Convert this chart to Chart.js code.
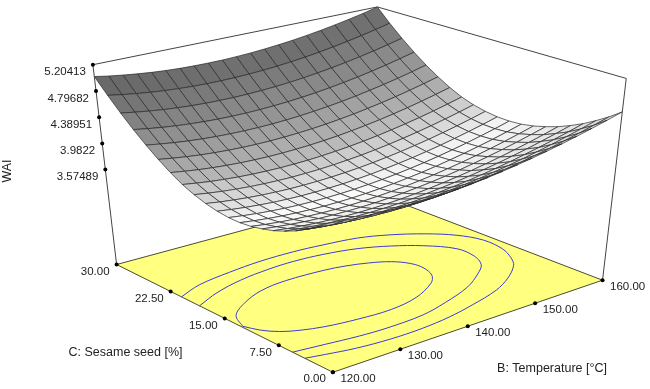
<!DOCTYPE html>
<html>
<head>
<title>WAI surface</title>
<script src="https://cdn.jsdelivr.net/npm/chart.js"></script>
<style>
  body{ margin:0; background:#fff; }
  canvas{ display:block; }
</style>
</head>
<body>
<canvas id="myChart" width="650" height="389"></canvas>
<script>
// axis values
const temperature = [120,122,124,126,128,130,132,134,136,138,140,142,144,146,148,150,152,154,156,158,160];
const sesame = [0,1.5,3,4.5,6,7.5,9,10.5,12,13.5,15,16.5,18,19.5,21,22.5,24,25.5,27,28.5,30];
const tempTicks = [120,130,140,150,160];
const tempLabels = ['120.00','130.00','140.00','150.00','160.00'];
const sesameTicks = [0,7.5,15,22.5,30];
const sesameLabels = ['0.00','7.50','15.00','22.50','30.00'];
const waiTicks = [5.20413,4.79682,4.38951,3.9822,3.57489];
const waiLabels = ['5.20413','4.79682','4.38951','3.9822','3.57489'];

// WAI, one row per sesame value, one column per temperature
const waiS00 = [4.190,4.169,4.154,4.143,4.136,4.135,4.138,4.147,4.160,4.177,4.200,4.227,4.260,4.297,4.338,4.385,4.436,4.493,4.554,4.619,4.690];
const waiS01 = [4.072,4.050,4.034,4.022,4.015,4.013,4.015,4.023,4.035,4.052,4.074,4.100,4.132,4.168,4.209,4.255,4.305,4.361,4.421,4.486,4.556];
const waiS02 = [3.972,3.950,3.932,3.920,3.912,3.909,3.911,3.917,3.929,3.945,3.966,3.992,4.022,4.058,4.098,4.143,4.193,4.247,4.307,4.371,4.440];
const waiS03 = [3.882,3.859,3.840,3.827,3.818,3.815,3.816,3.821,3.832,3.847,3.868,3.893,3.922,3.957,3.996,4.041,4.090,4.143,4.202,4.265,4.334];
const waiS04 = [3.810,3.786,3.767,3.753,3.744,3.739,3.739,3.744,3.754,3.769,3.788,3.812,3.841,3.875,3.914,3.957,4.005,4.058,4.116,4.179,4.246];
const waiS05 = [3.748,3.723,3.703,3.688,3.678,3.673,3.672,3.676,3.685,3.699,3.718,3.741,3.769,3.802,3.840,3.883,3.930,3.982,4.039,4.101,4.168];
const waiS06 = [3.704,3.679,3.658,3.642,3.631,3.625,3.624,3.627,3.635,3.648,3.666,3.689,3.716,3.748,3.785,3.827,3.874,3.925,3.981,4.042,4.108];
const waiS07 = [3.670,3.643,3.622,3.605,3.594,3.587,3.584,3.587,3.594,3.607,3.624,3.645,3.672,3.703,3.740,3.781,3.826,3.877,3.932,3.993,4.058];
const waiS08 = [3.654,3.627,3.605,3.587,3.575,3.567,3.564,3.566,3.572,3.584,3.600,3.621,3.647,3.677,3.713,3.753,3.798,3.848,3.902,3.962,4.026];
const waiS09 = [3.658,3.630,3.607,3.589,3.575,3.567,3.563,3.564,3.570,3.580,3.596,3.616,3.641,3.671,3.705,3.745,3.789,3.838,3.892,3.950,4.014];
const waiS10 = [3.680,3.651,3.628,3.609,3.594,3.585,3.580,3.581,3.586,3.595,3.610,3.629,3.654,3.683,3.716,3.755,3.798,3.847,3.900,3.957,4.020];
const waiS11 = [3.722,3.692,3.668,3.648,3.633,3.623,3.617,3.617,3.621,3.630,3.644,3.662,3.686,3.714,3.747,3.785,3.827,3.875,3.927,3.984,4.046];
const waiS12 = [3.782,3.752,3.726,3.706,3.690,3.679,3.673,3.671,3.675,3.683,3.696,3.714,3.736,3.764,3.796,3.833,3.875,3.921,3.973,4.029,4.090];
const waiS13 = [3.862,3.831,3.804,3.783,3.766,3.755,3.748,3.745,3.748,3.755,3.768,3.785,3.806,3.833,3.864,3.901,3.942,3.987,4.038,4.093,4.154];
const waiS14 = [3.970,3.938,3.911,3.889,3.872,3.859,3.851,3.848,3.850,3.857,3.868,3.884,3.905,3.931,3.962,3.997,4.037,4.082,4.132,4.187,4.246];
const waiS15 = [4.098,4.065,4.037,4.014,3.996,3.983,3.974,3.970,3.971,3.977,3.988,4.003,4.023,4.048,4.078,4.113,4.152,4.196,4.245,4.299,4.358];
const waiS16 = [4.244,4.211,4.182,4.158,4.139,4.125,4.116,4.111,4.111,4.116,4.126,4.141,4.160,4.184,4.213,4.247,4.286,4.329,4.377,4.430,4.488];
const waiS17 = [4.410,4.375,4.346,4.321,4.302,4.287,4.276,4.271,4.270,4.275,4.284,4.297,4.316,4.339,4.368,4.401,4.438,4.481,4.528,4.581,4.638];
const waiS18 = [4.594,4.559,4.529,4.503,4.483,4.467,4.456,4.450,4.448,4.452,4.460,4.473,4.491,4.513,4.541,4.573,4.610,4.652,4.698,4.750,4.806];
const waiS19 = [4.798,4.762,4.731,4.705,4.683,4.667,4.655,4.648,4.646,4.648,4.656,4.668,4.685,4.707,4.733,4.765,4.801,4.842,4.888,4.938,4.994];
const waiS20 = [5.020,4.983,4.952,4.925,4.902,4.885,4.872,4.865,4.862,4.863,4.870,4.881,4.898,4.919,4.944,4.975,5.010,5.051,5.096,5.145,5.204];
const wai = [waiS00,waiS01,waiS02,waiS03,waiS04,waiS05,waiS06,waiS07,waiS08,waiS09,waiS10,
             waiS11,waiS12,waiS13,waiS14,waiS15,waiS16,waiS17,waiS18,waiS19,waiS20];

const outerTemp = [120,124,129.4,134.5,139.6,143.6,148.3,151.9,155.2,157.6,158.8,158.5,157.3,155.9,152.8,149.4,144.6,140.2,135.7,131.1,126.4,122.5,120];
const outerSesame = [21,22.2,22.9,23.3,23.3,23,22.4,21.2,19.4,17.3,14.8,12,9.8,8.2,6.2,4.7,3.5,2.7,2.3,2.3,2.7,3.4,3.9];
const middleTemp = [120,124.2,128.9,133.7,137.6,141.7,146,149.6,152.5,154.7,154.6,153.4,151.3,147.7,142.7,138.3,132.8,128.9,124.4,120];
const middleSesame = [18.5,19.9,20.9,21.4,21.5,21.2,20.4,19,17.2,14.7,12.3,10.3,8.85,7,5.5,4.6,4.4,4.6,5.1,5.6];
const innerTemp = [120.2,121.6,124.7,128.6,132.9,138.7,141.4,144,146.3,147.6,147.8,147,145.3,141.2,136.7,131.9,127.6,124.7,122.6,121.1,120.2];
const innerSesame = [12.7,14.9,16.6,17.9,18.4,18.2,17.8,17.1,16.05,14.6,13,11.2,9.8,8.1,7.4,7.6,8.15,8.9,9.8,11.1,12.7];

// box of the 3D view, corner pixels [temp, sesame] low/high
const zFloor = 2.1, zTop = 5.20413;
const floorBox = { f00:[333,376], f10:[606,282], f01:[114,266], f11:[378,194] };
const topBox   = { f00:[327,150], f10:[630,76],  f01:[90,62],   f11:[378,3] };

function bilin(box, a, b, k){
  return (1-a)*(1-b)*box.f00[k] + a*(1-b)*box.f10[k] + (1-a)*b*box.f01[k] + a*b*box.f11[k];
}
function project(t, s, z){
  const a = (t-120)/40, b = s/30, c = (z-zFloor)/(zTop-zFloor);
  return {
    x: bilin(floorBox,a,b,0)*(1-c) + bilin(topBox,a,b,0)*c,
    y: bilin(floorBox,a,b,1)*(1-c) + bilin(topBox,a,b,1)*c
  };
}

function lineSet(points, color, width, tension){
  return { data:points, showLine:true, borderColor:color, borderWidth:width, pointRadius:0, fill:false, tension:tension || 0 };
}
function dotSet(points){
  return { data:points, showLine:false, pointRadius:2, backgroundColor:'#000', borderColor:'#000', borderWidth:0 };
}
function contourSet(ts, ss){
  return lineSet(ts.map((t,n) => project(t,ss[n],zFloor)), '#3c3cd8', 1, 0.35);
}

// grey of one cell, depends on slope of the surface
function cellGrey(i, j){
  const zv = (wai[j+1][i]+wai[j+1][i+1]-wai[j][i]-wai[j][i+1])/2/0.1;
  const zu = (wai[j][i+1]+wai[j+1][i+1]-wai[j][i]-wai[j+1][i])/2/0.1;
  let g = zv > 0 ? 252-65*zv : 252+22*zv;
  g -= 8*Math.abs(zu);
  g = Math.round(Math.max(88, Math.min(250, g)));
  return 'rgb('+g+','+g+','+g+')';
}

// first dataset ends up on top
const datasets = [];
datasets.push(dotSet(waiTicks.map(z => project(120,30,z))));
datasets.push(dotSet(sesameTicks.map(s => project(120,s,zFloor))));
datasets.push(dotSet(tempTicks.map(t => project(t,0,zFloor))));
datasets.push(lineSet([project(120,30,zFloor),project(120,30,zTop),project(160,30,zTop),project(160,0,zTop),project(160,0,zFloor)],'#444',1));

for(let j=0;j<20;j++){
  for(let i=0;i<20;i++){
    datasets.push({
      data:[project(temperature[i],sesame[j],wai[j][i]),
            project(temperature[i+1],sesame[j],wai[j][i+1]),
            project(temperature[i+1],sesame[j+1],wai[j+1][i+1]),
            project(temperature[i],sesame[j+1],wai[j+1][i]),
            project(temperature[i],sesame[j],wai[j][i])],
      showLine:true, fill:'shape', backgroundColor:cellGrey(i,j),
      borderColor:'#2a2a2a', borderWidth:0.7, pointRadius:0, tension:0
    });
  }
}

datasets.push(contourSet(outerTemp,outerSesame));
datasets.push(contourSet(middleTemp,middleSesame));
datasets.push(contourSet(innerTemp,innerSesame));
datasets.push({
  data:[project(120,0,zFloor),project(160,0,zFloor),project(160,30,zFloor),project(120,30,zFloor),project(120,0,zFloor)],
  showLine:true, fill:'shape', backgroundColor:'#ffff80', borderColor:'#4a4a30', borderWidth:1, pointRadius:0
});

const textPlugin = {
  id:'axisText',
  afterDraw(chart){
    const ctx = chart.ctx, sx = chart.scales.x, sy = chart.scales.y;
    function put(text, p, dx, dy, align){
      ctx.textAlign = align;
      ctx.fillText(text, sx.getPixelForValue(p.x)+dx, sy.getPixelForValue(p.y)+dy);
    }
    ctx.save();
    ctx.font = '11.5px "Liberation Sans"';
    ctx.fillStyle = '#222';
    ctx.textBaseline = 'middle';
    waiLabels.forEach((l,n) => put(l, project(120,30,waiTicks[n]), -7, 7.5, 'right'));
    sesameLabels.forEach((l,n) => put(l, project(120,sesameTicks[n],zFloor), -7, 7, 'right'));
    tempLabels.forEach((l,n) => put(l, project(tempTicks[n],0,zFloor), 7.5, 7, 'left'));
    ctx.font = '12.5px "Liberation Sans"';
    ctx.textAlign = 'center';
    ctx.fillText('C: Sesame seed [%]', 125.5, 353);
    ctx.fillText('B: Temperature [\u00b0C]', 552, 369);
    ctx.translate(7.5,171);
    ctx.rotate(-Math.PI/2);
    ctx.fillText('WAI', 0, 0);
    ctx.restore();
  }
};

new Chart(document.getElementById('myChart'), {
  type:'scatter',
  data:{ datasets:datasets },
  options:{
    responsive:false,
    animation:false,
    events:[],
    layout:{ padding:0 },
    plugins:{ legend:{display:false}, tooltip:{enabled:false} },
    scales:{
      x:{ type:'linear', min:0, max:650, display:false },
      y:{ type:'linear', min:0, max:389, reverse:true, display:false }
    }
  },
  plugins:[textPlugin]
});
</script>
</body>
</html>
